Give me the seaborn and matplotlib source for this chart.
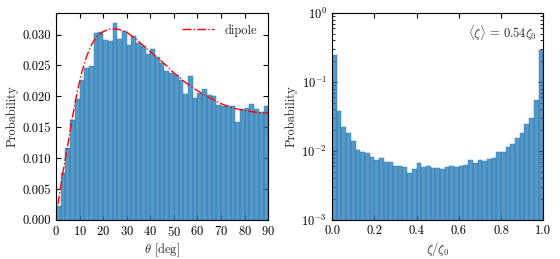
import numpy as np
import pandas as pd
import matplotlib
matplotlib.use('Agg')
import matplotlib.pyplot as plt
import seaborn as sns

########## data
# left panel: 45 bins of 2 deg between 0 and 90
theta_edges = list(np.linspace(0, 90, 46))
theta_prob = [0.0023, 0.0076, 0.0116, 0.0162, 0.0196, 0.0226, 0.0246, 0.0249, 0.0302, 0.0304,
              0.0292, 0.0290, 0.0319, 0.0293, 0.0306, 0.0283, 0.0298, 0.0287, 0.0281, 0.0268,
              0.0276, 0.0263, 0.0254, 0.0241, 0.0238, 0.0235, 0.0226, 0.0203, 0.0233, 0.0198,
              0.0206, 0.0212, 0.0202, 0.0200, 0.0186, 0.0184, 0.0184, 0.0184, 0.0158, 0.0179,
              0.0181, 0.0187, 0.0180, 0.0174, 0.0184]

# dipole curve
dipole_theta = [0.8, 3, 5, 7, 9, 11, 13, 15, 17, 20, 23, 26, 30, 35, 40, 45,
                50, 55, 60, 65, 70, 75, 80, 85, 90]
dipole_prob = [0.0025, 0.0078, 0.0122, 0.0167, 0.0207, 0.0240, 0.0265, 0.0283, 0.0296, 0.0305,
               0.0309, 0.0309, 0.0304, 0.0289, 0.0272, 0.0256, 0.0238, 0.0222, 0.0209, 0.0198,
               0.0188, 0.0181, 0.0177, 0.0174, 0.0173]

# right panel: 45 bins between 0 and 1
zeta_edges = list(np.linspace(0, 1, 46))
zeta_prob = [0.246, 0.038, 0.0223, 0.0182, 0.0140, 0.0104, 0.0098, 0.0093, 0.0082, 0.0075,
             0.0079, 0.0069, 0.0069, 0.0061, 0.0061, 0.0059, 0.0048, 0.0054, 0.0067, 0.0058,
             0.0060, 0.0057, 0.0056, 0.0054, 0.0059, 0.0060, 0.0058, 0.0061, 0.0063, 0.0073,
             0.0066, 0.0073, 0.0072, 0.0076, 0.0079, 0.0098, 0.0098, 0.0115, 0.0125, 0.0153,
             0.0182, 0.0248, 0.030, 0.054, 0.288]

########## style
sns.set_style('ticks')
plt.rcParams['font.family'] = 'serif'
plt.rcParams['font.serif'] = ['cmr10', 'DejaVu Serif']
plt.rcParams['mathtext.fontset'] = 'cm'
plt.rcParams['axes.formatter.use_mathtext'] = True
plt.rcParams['axes.unicode_minus'] = False
plt.rcParams['font.size'] = 9
plt.rcParams['axes.edgecolor'] = 'black'
plt.rcParams['xtick.color'] = 'black'
plt.rcParams['ytick.color'] = 'black'
plt.rcParams['axes.linewidth'] = 0.8

bar_color = sns.color_palette()[0]

fig = plt.figure(figsize=(5.6, 2.59), dpi=100)
ax1 = fig.add_axes([0.100, 0.151, 0.379, 0.799])
ax2 = fig.add_axes([0.593, 0.151, 0.377, 0.799])

##### left: theta
left_df = pd.DataFrame({'theta': (np.array(theta_edges[:-1]) + np.array(theta_edges[1:])) / 2,
                        'prob': theta_prob})
sns.histplot(data=left_df, x='theta', weights='prob', bins=theta_edges, ax=ax1,
             color=bar_color, edgecolor=bar_color, linewidth=0.3)
sns.lineplot(x=dipole_theta, y=dipole_prob, color='red', linestyle='-.', linewidth=1.0,
             label='dipole', ax=ax1)
ax1.set_xlim(0, 90)
ax1.set_ylim(0, 0.0335)
ax1.set_xticks(np.arange(0, 91, 10))
ax1.set_yticks(np.arange(0, 0.0301, 0.005))
ax1.yaxis.set_major_formatter(matplotlib.ticker.FormatStrFormatter('%.3f'))
ax1.set_xlabel(r'$\theta$ [deg]', labelpad=2)
ax1.set_ylabel('Probability', labelpad=3)
ax1.tick_params(which='both', direction='in', top=True, right=True, length=3.5, width=0.8)
ax1.legend(loc='upper right', frameon=False, handlelength=2.6, fontsize=9)

##### right: zeta
right_df = pd.DataFrame({'zeta': (np.array(zeta_edges[:-1]) + np.array(zeta_edges[1:])) / 2,
                         'prob': zeta_prob})
sns.histplot(data=right_df, x='zeta', weights='prob', bins=zeta_edges, ax=ax2,
             color=bar_color, edgecolor=bar_color, linewidth=0.3)
ax2.set_yscale('log')
ax2.set_xlim(0, 1)
ax2.set_ylim(1e-3, 1)
ax2.set_xticks(np.arange(0, 1.01, 0.2))
ax2.xaxis.set_major_formatter(matplotlib.ticker.FormatStrFormatter('%.1f'))
ax2.set_xlabel(r'$\zeta/\zeta_0$', labelpad=2)
ax2.set_ylabel('Probability', labelpad=3)
ax2.tick_params(which='major', direction='in', top=True, right=True, length=3.5, width=0.8)
ax2.tick_params(which='minor', direction='in', top=True, right=True, length=2, width=0.6)
ax2.text(0.97, 0.95, r'$\langle\zeta\rangle\,=\,0.54\zeta_0$', transform=ax2.transAxes,
         ha='right', va='top', fontsize=9)

fig.savefig('out.png', dpi=100)
